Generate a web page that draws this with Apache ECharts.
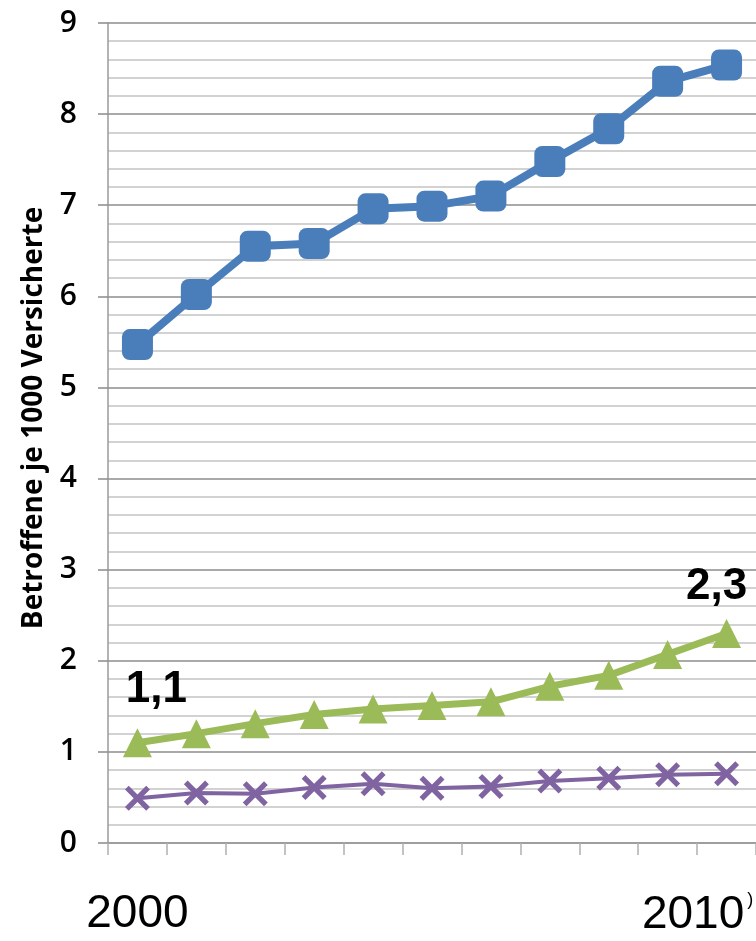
<!DOCTYPE html>
<html>
<head>
<meta charset="utf-8">
<script src="https://cdn.jsdelivr.net/npm/echarts@6/dist/echarts.min.js"></script>
<style>
  html, body { margin: 0; padding: 0; background: #ffffff; }
  #chart { width: 756px; height: 941px; }
</style>
</head>
<body>
<div id="chart"></div>
<script>
// Years on the category axis
const years = ['2000', '2001', '2002', '2003', '2004', '2005', '2006', '2007', '2008', '2009', '2010'];

// Affected persons per 1000 insured
const seriesBlue = [5.47, 6.02, 6.55, 6.58, 6.96, 6.99, 7.10, 7.48, 7.84, 8.36, 8.54];
const seriesGreen = [1.1, 1.20, 1.31, 1.41, 1.47, 1.51, 1.55, 1.72, 1.84, 2.07, 2.3];
const seriesPurple = [0.49, 0.55, 0.54, 0.61, 0.65, 0.60, 0.62, 0.68, 0.71, 0.75, 0.76];

// Value labels written on the green series (first and last year)
const greenLabels = { 0: '1,1', 10: '2,3' };

const yAxisTitle = 'Betroffene je 1000 Versicherte';

// Cross marker as a filled outline
const crossPath = 'path://M3,0 L10,7 L17,0 L20,3 L13,10 L20,17 L17,20 L10,13 L3,20 L0,17 L7,10 L0,3 Z';

const greenData = seriesGreen.map((v, i) => {
  if (greenLabels[i] === undefined) return v;
  return {
    value: v,
    label: {
      show: true,
      formatter: greenLabels[i],
      position: 'top',
      distance: 2,
      offset: i === 0 ? [19, -14] : [-10, -8],
      fontFamily: 'Liberation Sans, Arial, sans-serif',
      fontWeight: 'bold',
      fontSize: 44,
      color: '#000000'
    }
  };
});

const chart = echarts.init(document.getElementById('chart'), null, { renderer: 'canvas' });

chart.setOption({
  animation: false,
  backgroundColor: '#ffffff',
  grid: { left: 108, right: 0, top: 23, bottom: 98, containLabel: false, outerBoundsMode: 'none' },
  xAxis: {
    type: 'category',
    data: years,
    boundaryGap: true,
    axisLine: { show: true, lineStyle: { color: '#9a9a9a', width: 1.5 } },
    axisTick: { show: true, interval: 0, length: 12, lineStyle: { color: '#b0b0b0', width: 1.5 } },
    axisLabel: {
      interval: 0,
      margin: 48,
      fontFamily: 'Liberation Sans, Arial, sans-serif',
      fontSize: 46,
      color: '#000000',
      formatter: function (val, idx) {
        if (idx === 0) return '{yr|' + val + '}';
        if (idx === years.length - 1) return '{yr|' + val + '}{sup|)}{pad|}';
        return '';
      },
      rich: {
        yr: { fontFamily: 'Liberation Sans, Arial, sans-serif', fontSize: 46, color: '#000000' },
        sup: { fontFamily: 'Liberation Sans, Arial, sans-serif', fontSize: 18, color: '#000000', verticalAlign: 'top', padding: [0, 0, 30, 3] },
        pad: { width: 58 }
      }
    },
    splitLine: { show: false }
  },
  yAxis: {
    type: 'value',
    min: 0,
    max: 9,
    interval: 1,
    name: yAxisTitle,
    nameLocation: 'middle',
    nameGap: 60,
    nameRotate: 90,
    nameTextStyle: {
      fontFamily: 'Open Sans, sans-serif',
      fontWeight: 'bold',
      fontSize: 28,
      color: '#000000',
      padding: [0, 0, 0, 30]
    },
    axisLine: { show: true, lineStyle: { color: '#9a9a9a', width: 1.5 } },
    axisTick: { show: true, length: 10, lineStyle: { color: '#8a8a8a', width: 1.5 } },
    axisLabel: {
      margin: 31,
      fontFamily: 'Open Sans, sans-serif',
      fontWeight: 600,
      fontSize: 30,
      color: '#000000'
    },
    splitLine: { show: true, lineStyle: { color: '#8c8c8c', width: 1.5 } },
    minorTick: { show: false, splitNumber: 5 },
    minorSplitLine: { show: true, lineStyle: { color: '#c4c4c4', width: 1.5 } }
  },
  series: [
    {
      name: 'blue',
      type: 'line',
      data: seriesBlue,
      symbol: 'roundRect',
      symbolSize: 31,
      lineStyle: { color: '#4a7ebb', width: 8 },
      itemStyle: { color: '#4a7ebb' },
      z: 3
    },
    {
      name: 'green',
      type: 'line',
      data: greenData,
      symbol: 'triangle',
      symbolSize: [29, 29],
      lineStyle: { color: '#9bbb59', width: 7 },
      itemStyle: { color: '#9bbb59' },
      z: 3
    },
    {
      name: 'purple',
      type: 'line',
      data: seriesPurple,
      symbol: crossPath,
      symbolSize: 25,
      lineStyle: { color: '#8064a2', width: 4 },
      itemStyle: { color: '#8064a2' },
      z: 3
    }
  ]
});
</script>
</body>
</html>
